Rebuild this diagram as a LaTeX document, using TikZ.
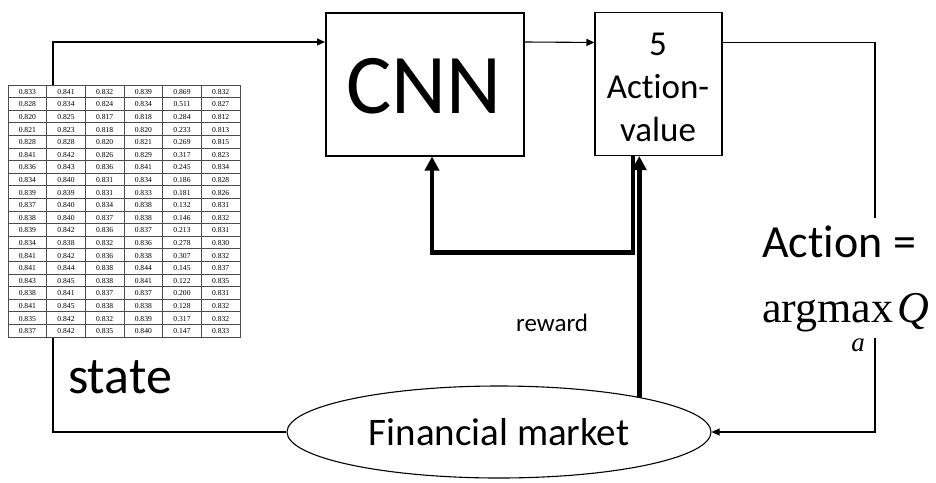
\documentclass[tikz,border=0pt]{standalone}
\usepackage{fontspec}
\setmainfont{Carlito}[Ligatures=NoCommon]
\newfontfamily\numfont{Liberation Serif}
\usetikzlibrary{arrows.meta,shapes.geometric}
\tikzset{
  flow/.style={line width=1.1pt, -{Triangle[length=8pt,width=7pt]}},
  plain/.style={line width=1.1pt},
  heavy/.style={line width=4.5pt, -{Triangle[length=14pt,width=14pt]}},
  cell/.style={font=\numfont\fontsize{7.6}{7.6}\selectfont, inner sep=0},
  gridline/.style={draw=black!70, line width=0.8pt},
  box/.style={draw, inner sep=0},
}
\begin{document}
\begin{tikzpicture}[x=1pt, y=-1pt]
\useasboundingbox[fill=white] (0,0) rectangle (936,482);

% state matrix: 20 rows x 6 columns
\node[gridline, minimum width=232, minimum height=252, anchor=north west, inner sep=0] (grid) at (8,85) {};
\foreach \i in {1,...,19}
  \draw[gridline] (8,{85+12.6*\i}) -- (240,{85+12.6*\i});
\foreach \j in {1,...,5}
  \draw[gridline] ({8+38.667*\j},85) -- ({8+38.667*\j},337);
\foreach \row [count=\r] in {
  {0.833,0.841,0.832,0.839,0.869,0.832},
  {0.828,0.834,0.824,0.834,0.511,0.827},
  {0.820,0.825,0.817,0.818,0.284,0.812},
  {0.821,0.823,0.818,0.820,0.233,0.813},
  {0.828,0.828,0.820,0.821,0.269,0.815},
  {0.841,0.842,0.826,0.829,0.317,0.823},
  {0.836,0.843,0.836,0.841,0.245,0.834},
  {0.834,0.840,0.831,0.834,0.186,0.828},
  {0.839,0.839,0.831,0.833,0.181,0.826},
  {0.837,0.840,0.834,0.838,0.132,0.831},
  {0.838,0.840,0.837,0.838,0.146,0.832},
  {0.839,0.842,0.836,0.837,0.213,0.831},
  {0.834,0.838,0.832,0.836,0.278,0.830},
  {0.841,0.842,0.836,0.838,0.307,0.832},
  {0.841,0.844,0.838,0.844,0.145,0.837},
  {0.843,0.845,0.838,0.841,0.122,0.835},
  {0.838,0.841,0.837,0.837,0.200,0.831},
  {0.841,0.845,0.838,0.838,0.128,0.832},
  {0.835,0.842,0.832,0.839,0.317,0.832},
  {0.837,0.842,0.835,0.840,0.147,0.833}}{
  \foreach \v [count=\c] in \row
    \node[cell] (n\r-\c) at ({8+38.667*(\c-0.5)},{85+12.6*(\r-0.5)+0.5}) {\v};
}

% main blocks
\node[box, line width=2pt, minimum width=198, minimum height=143] (cnn) at (425,84) {};
\node[font=\fontsize{85}{85}\selectfont, inner sep=0] (cnntxt) at (424,86) {CNN};
\node[box, line width=1.1pt, minimum width=127, minimum height=143] (act) at (658.5,84) {};
\node[align=center, inner sep=0, font=\fontsize{35}{43}\selectfont] (acttxt) at (658,87) {5\\Action-\\value};
\node[draw, ellipse, line width=1.1pt, minimum width=424, minimum height=92, inner sep=0,
      font=\fontsize{39}{39}\selectfont] (mkt) at (499,432) {Financial market};

% labels
\node[font=\fontsize{52}{52}\selectfont, anchor=base west, inner sep=0] (state) at (68,393) {state};
\node[font=\fontsize{25}{25}\selectfont, anchor=base west, inner sep=0] (reward) at (516,331) {reward};
\node[font=\fontsize{46}{46}\selectfont, anchor=base west, inner sep=0] (actlbl) at (762,257) {Action =};
\node[font=\numfont\fontsize{44}{44}\selectfont, anchor=base west, inner sep=0] (amax) at (762,322) {argmax\hspace{4pt}\textit{Q}};
\node[font=\numfont\itshape\fontsize{27}{27}\selectfont, anchor=base, inner sep=0] (sub) at (858,351) {a};

\coordinate (r1) at (875,218);
\coordinate (r2) at (875,338);

% thin connectors
\draw[flow] ([xshift=45]grid.north west) |- ([yshift=-30.5]cnn.north west);
\draw[flow] ([yshift=-30.5]cnn.north east) -- ([yshift=-30.5]act.north west);
\draw[plain] ([yshift=-30.5]act.north east) -| (r1);
\draw[flow] (r2) |- (mkt.east);
\draw[plain] ([xshift=45]grid.south west) |- (mkt.west);

% heavy connectors
\draw[heavy] (mkt.14) -- (mkt.14 |- act.south);
\draw[heavy] ([xshift=-25.5]act.south) -- ++(0,96.5) -| ([xshift=7]cnn.south);
\end{tikzpicture}
\end{document}
